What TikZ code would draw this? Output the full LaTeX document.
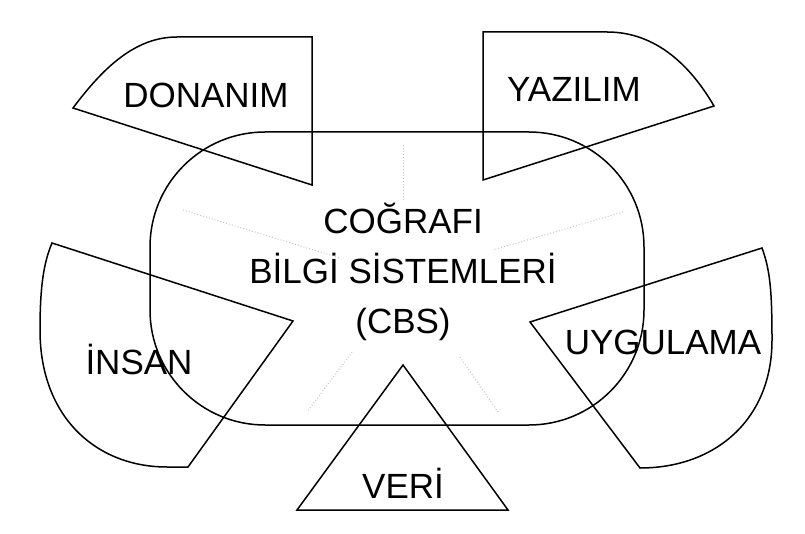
\documentclass[tikz,border=0pt]{standalone}
\usepackage{fontspec}
\setmainfont{Liberation Sans}
\tikzset{
  part/.style={draw, line width=1.5pt, line join=miter},
  spoke/.style={draw=gray!45, dotted, line width=1pt},
  lbl/.style={font=\fontsize{35}{50}\selectfont, inner sep=0pt, anchor=center}
}
\begin{document}
\begin{tikzpicture}[x=1pt, y=-1pt]
\useasboundingbox (0,0) rectangle (805,534);
% Merkez
\draw [part, rounded corners=115] (150,132) rectangle (644,425);
% Silik cizgiler
\path [spoke] (403,145) -- (403,200);
\path [spoke] (183,210) -- (340,258);
\path [spoke] (623,212) -- (493,250);
\path [spoke] (352,352) -- (307,412);
\path [spoke] (460,357) -- (498,412);
% Parcalar
% ---
% DONANIM
% ---
\draw [part] (312,185) -- (312,37) -- (177,37)
  .. controls (135,37) and (103,68) .. (73,108) -- cycle;
% ---
% YAZILIM
% ---
\draw [part] (483,180) -- (483,32) -- (607,32)
  .. controls (650,32) and (686,58) .. (714,106) -- cycle;
% ---
% INSAN
% ---
\draw [part] (293,321) -- (52,243)
  .. controls (44,262) and (40,285) .. (40,330)
  .. controls (40,418) and (97,467) .. (167,467) -- (188,467) -- cycle;
% ---
% UYGULAMA
% ---
\draw [part] (530,322) -- (762,248)
  .. controls (770,270) and (772,290) .. (772,340)
  .. controls (772,420) and (715,468) .. (640,468) -- cycle;
% ---
% VERI
% ---
\draw [part] (403,365) -- (508,510) -- (297,510) -- cycle;
% Yazilar
\node [lbl] (cbs) at (403,272) [align=center] {COĞRAFI\\BİLGİ SİSTEMLERİ\\(CBS)};
\node [lbl] (donanim) at (206,95) {DONANIM};
\node [lbl] (yazilim) at (574,89) {YAZILIM};
\node [lbl] (insan) at (139,359) {İNSAN};
\node [lbl] (uygulama) at (663,342) {UYGULAMA};
\node [lbl] (veri) at (403,483) {VERİ};
\end{tikzpicture}
\end{document}
